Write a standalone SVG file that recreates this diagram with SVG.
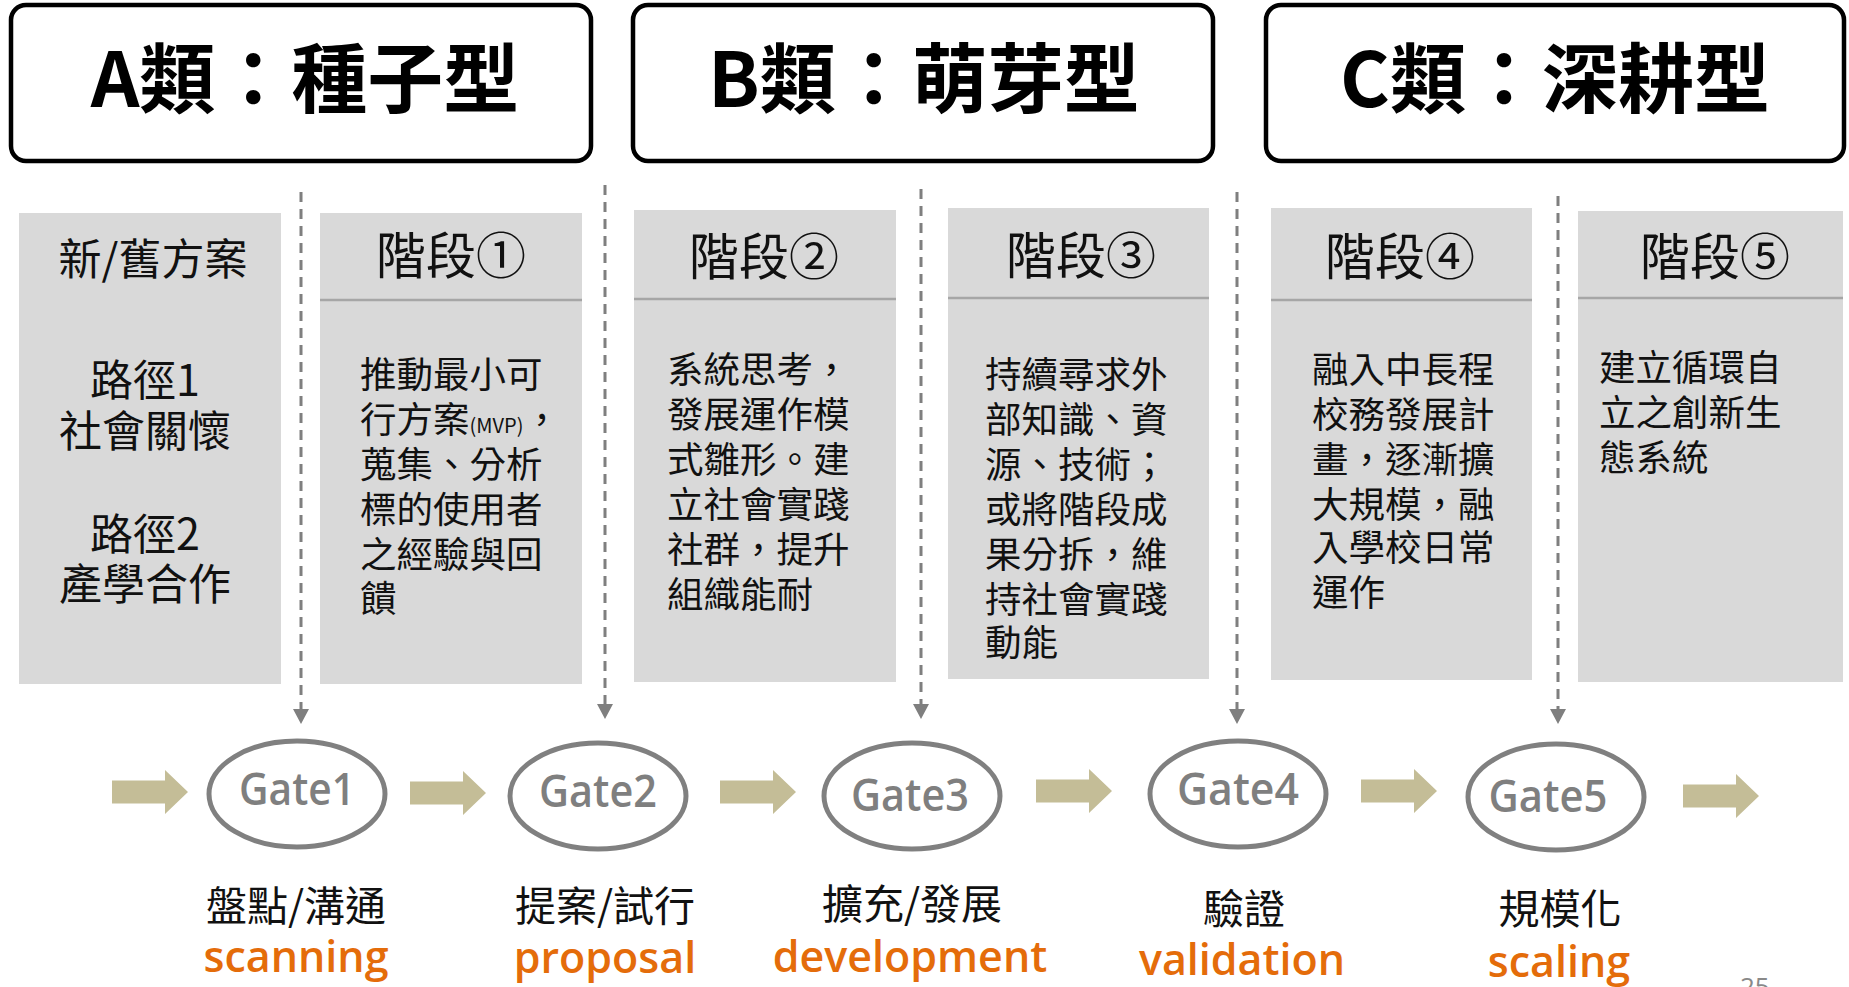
<svg xmlns="http://www.w3.org/2000/svg" width="1849" height="987" viewBox="0 0 1849 987">
<style>
.hdr{fill:#fff;stroke:#000;stroke-width:4.5}
.title{font-family:'Noto Sans CJK TC','Noto Sans CJK SC',sans-serif;font-size:76px;font-weight:700;fill:#000;text-anchor:middle}
.box{fill:#D9D9D9}
.sep{stroke:#A6A6A6;stroke-width:2.5}
.cjk{font-family:'Noto Sans CJK TC','Noto Sans CJK SC',sans-serif;fill:#111}
.h{font-size:50px;text-anchor:middle}
.b{font-size:36.5px}
.side{font-size:43px;text-anchor:middle}
.dash{stroke:#7F7F7F;stroke-width:3;stroke-dasharray:10 7;fill:none}
.gate{fill:#fff;stroke:#808080;stroke-width:5}
.gt{font-family:'Open Sans','Noto Sans',sans-serif;font-size:45px;font-weight:600;fill:#7F7F7F;text-anchor:middle}
.arr{fill:#C4BD97}
.lab{font-size:41px;text-anchor:middle}
.en{font-family:'Open Sans','Noto Sans',sans-serif;font-size:43px;font-weight:600;fill:#E46C0A;text-anchor:middle}
</style>
<defs>
<marker id="tri" viewBox="0 -8 15 16" markerWidth="15" markerHeight="16" refX="0" refY="0" orient="auto" markerUnits="userSpaceOnUse">
<path d="M0,-8 L15,0 L0,8 Z" fill="#7F7F7F"/>
</marker>
<polygon id="blk" points="0,-11.5 53,-11.5 53,-22 76,0 53,22 53,11.5 0,11.5"/>
</defs>

<g id="typeA">
<rect class="hdr" x="11" y="5" width="580" height="156" rx="15"/>
<text class="title" x="305" y="107">A類：種子型</text>
</g>
<g id="typeB">
<rect class="hdr" x="633" y="5" width="580" height="156" rx="15"/>
<text class="title" x="924" y="107">B類：萌芽型</text>
</g>
<g id="typeC">
<rect class="hdr" x="1266" y="5" width="578" height="156" rx="15"/>
<text class="title" x="1555" y="107">C類：深耕型</text>
</g>

<g id="source">
<rect class="box" x="19" y="213" width="262" height="471"/>
<g class="cjk side">
<text x="153" y="275">新/舊方案</text>
<text x="145" y="396">路徑1</text>
<text x="145" y="447">社會關懷</text>
<text x="145" y="550">路徑2</text>
<text x="145" y="600">產學合作</text>
</g>
</g>

<g id="stage1">
<rect class="box" x="320" y="213" width="262" height="471"/>
<line class="sep" x1="320" y1="300" x2="582" y2="300"/>
<text class="cjk h" x="451" y="274">階段①</text>
<g class="cjk b">
<text x="360" y="388">推動最小可</text>
<text x="360" y="433">行方案<tspan font-size="20px">(MVP)</tspan>，</text>
<text x="360" y="478">蒐集、分析</text>
<text x="360" y="523">標的使用者</text>
<text x="360" y="568">之經驗與回</text>
<text x="360" y="612">饋</text>
</g>
</g>

<g id="stage2">
<rect class="box" x="634" y="210" width="262" height="472"/>
<line class="sep" x1="634" y1="299" x2="896" y2="299"/>
<text class="cjk h" x="764" y="275">階段②</text>
<g class="cjk b">
<text x="667" y="383">系統思考，</text>
<text x="667" y="428">發展運作模</text>
<text x="667" y="473">式雛形。建</text>
<text x="667" y="518">立社會實踐</text>
<text x="667" y="563">社群，提升</text>
<text x="667" y="608">組織能耐</text>
</g>
</g>

<g id="stage3">
<rect class="box" x="948" y="208" width="261" height="471"/>
<line class="sep" x1="948" y1="298" x2="1209" y2="298"/>
<text class="cjk h" x="1081" y="274">階段③</text>
<g class="cjk b">
<text x="985" y="388">持續尋求外</text>
<text x="985" y="433">部知識、資</text>
<text x="985" y="478">源、技術；</text>
<text x="985" y="523">或將階段成</text>
<text x="985" y="568">果分拆，維</text>
<text x="985" y="613">持社會實踐</text>
<text x="985" y="656">動能</text>
</g>
</g>

<g id="stage4">
<rect class="box" x="1271" y="208" width="261" height="472"/>
<line class="sep" x1="1271" y1="300" x2="1532" y2="300"/>
<text class="cjk h" x="1400" y="275">階段④</text>
<g class="cjk b">
<text x="1312" y="383">融入中長程</text>
<text x="1312" y="428">校務發展計</text>
<text x="1312" y="473">畫，逐漸擴</text>
<text x="1312" y="518">大規模，融</text>
<text x="1312" y="561">入學校日常</text>
<text x="1312" y="606">運作</text>
</g>
</g>

<g id="stage5">
<rect class="box" x="1578" y="211" width="265" height="471"/>
<line class="sep" x1="1578" y1="298" x2="1843" y2="298"/>
<text class="cjk h" x="1715" y="275">階段⑤</text>
<g class="cjk b">
<text x="1599" y="381">建立循環自</text>
<text x="1599" y="426">立之創新生</text>
<text x="1599" y="471">態系統</text>
</g>
</g>

<g id="connectors">
<line class="dash" x1="301" y1="192" x2="301" y2="709" marker-end="url(#tri)"/>
<line class="dash" x1="605" y1="185" x2="605" y2="704" marker-end="url(#tri)"/>
<line class="dash" x1="921" y1="189" x2="921" y2="704" marker-end="url(#tri)"/>
<line class="dash" x1="1237" y1="192" x2="1237" y2="709" marker-end="url(#tri)"/>
<line class="dash" x1="1558" y1="196" x2="1558" y2="709" marker-end="url(#tri)"/>
<use href="#blk" class="arr" x="112" y="792"/>
<use href="#blk" class="arr" x="410" y="793"/>
<use href="#blk" class="arr" x="720" y="792"/>
<use href="#blk" class="arr" x="1036" y="791"/>
<use href="#blk" class="arr" x="1361" y="791"/>
<use href="#blk" class="arr" x="1683" y="796"/>
</g>

<g id="gate1">
<ellipse class="gate" cx="297" cy="794" rx="88" ry="53"/>
<text class="gt" x="297" y="805" textLength="116" lengthAdjust="spacingAndGlyphs">Gate1</text>
<text class="cjk lab" x="296" y="921">盤點/溝通</text>
<text class="en" x="296" y="972">scanning</text>
</g>
<g id="gate2">
<ellipse class="gate" cx="598" cy="796" rx="88" ry="53"/>
<text class="gt" x="598" y="807" textLength="118" lengthAdjust="spacingAndGlyphs">Gate2</text>
<text class="cjk lab" x="605" y="921">提案/試行</text>
<text class="en" x="605" y="973">proposal</text>
</g>
<g id="gate3">
<ellipse class="gate" cx="912" cy="796" rx="88" ry="53"/>
<text class="gt" x="910" y="811" textLength="118" lengthAdjust="spacingAndGlyphs">Gate3</text>
<text class="cjk lab" x="912" y="919">擴充/發展</text>
<text class="en" x="910" y="972">development</text>
</g>
<g id="gate4">
<ellipse class="gate" cx="1238" cy="794" rx="88" ry="53"/>
<text class="gt" x="1238" y="805" textLength="122" lengthAdjust="spacingAndGlyphs">Gate4</text>
<text class="cjk lab" x="1244" y="924">驗證</text>
<text class="en" x="1242" y="975">validation</text>
</g>
<g id="gate5">
<ellipse class="gate" cx="1556" cy="797" rx="88" ry="53"/>
<text class="gt" x="1548" y="812" textLength="119" lengthAdjust="spacingAndGlyphs">Gate5</text>
<text class="cjk lab" x="1560" y="924">規模化</text>
<text class="en" x="1559" y="977">scaling</text>
</g>

<text x="1740" y="996" font-family="'Open Sans','Noto Sans',sans-serif" font-size="26" fill="#898989">25</text>
</svg>
